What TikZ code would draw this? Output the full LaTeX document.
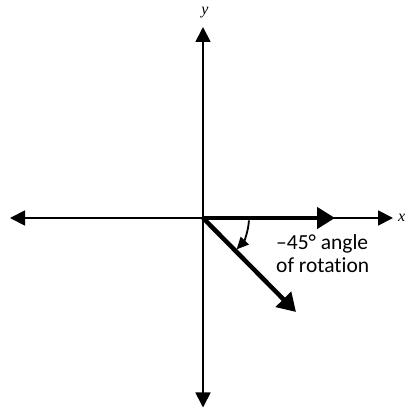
\documentclass[tikz,border=0pt]{standalone}
\usepackage{fontspec}
\setmainfont[Ligatures=NoCommon]{Carlito}
\newfontfamily\axisfont{Liberation Serif}
\usetikzlibrary{arrows.meta}

\begin{document}
\begin{tikzpicture}[x=1pt, y=1pt,
    axis/.style={line width=1.8pt, -{Triangle[length=15pt, width=15pt]}},
    vec/.style={line width=4.5pt, -{Triangle[length=18pt, width=21pt]}},
    turn/.style={line width=1.8pt, -{Triangle[length=12pt, width=11pt]}},
    lbl/.style={inner sep=0pt, font=\axisfont\itshape\fontsize{16}{16}\selectfont}]
    \useasboundingbox (0,0) rectangle (404,409);
    \coordinate (o) at (203,191);
    \coordinate (left) at (10,191);
    \coordinate (right) at (393,191);
    \coordinate (top) at (203,382);
    \coordinate (bottom) at (203,1.5);
    \coordinate (v0) at (335,191);
    \coordinate (v1) at (296,97);
    \node[lbl] (ylbl) at (205,396) {y};
    \node[lbl, anchor=west] (xlbl) at (398,191) {x};
    \node[inner sep=0pt, anchor=north west, align=left,
        font=\fontsize{21.5}{23}\selectfont] (note) at (276,175) {--45° angle\\of rotation};

    \draw[axis] (o) -- (left);
    \draw[axis] (o) -- (right);
    \draw[axis] (o) -- (top);
    \draw[axis] (o) -- (bottom);
    \draw[vec] (o) -- (v0);
    \draw[vec] (o) -- (v1);
    \draw[turn] (o) ++(-3:46) arc[start angle=-3, end angle=-43, radius=46];
\end{tikzpicture}
\end{document}
